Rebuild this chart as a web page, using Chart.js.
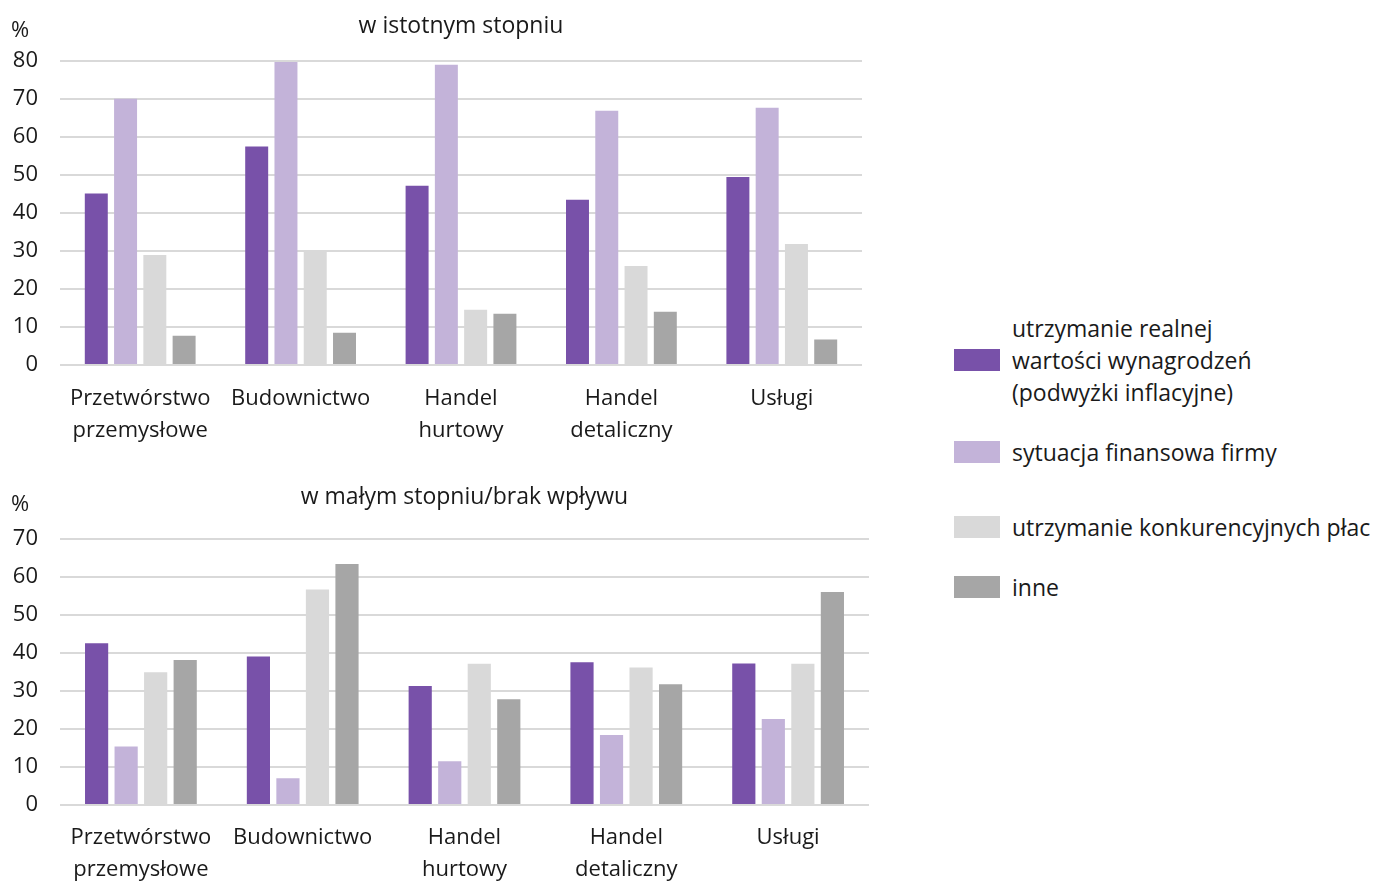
<!DOCTYPE html>
<html>
<head>
<meta charset="utf-8">
<script src="https://cdn.jsdelivr.net/npm/chart.js@4/dist/chart.umd.min.js"></script>
<style>
  body { margin: 0; background: #fff; font-family: "Open Sans", sans-serif; }
  #wrap { position: relative; width: 1380px; height: 882px; overflow: hidden; }
  #topBox { position: absolute; left: 0; top: 0; width: 862px; height: 451px; }
  #bottomBox { position: absolute; left: 0; top: 470px; width: 869px; height: 412px; }
  #legend { position: absolute; left: 954px; top: 312px; font-size: 23px; color: #1a1a1a; }
  .item { display: flex; align-items: center; line-height: 32px; white-space: nowrap; }
  .swatch { width: 46px; height: 22px; margin-right: 12px; flex: none; }
</style>
</head>
<body>
<div id="wrap">
  <div id="topBox"><canvas id="topChart"></canvas></div>
  <div id="bottomBox"><canvas id="bottomChart"></canvas></div>
  <div id="legend"></div>
</div>
<script>
// categories and series labels
const categories = [['Przetwórstwo', 'przemysłowe'], 'Budownictwo', ['Handel', 'hurtowy'], ['Handel', 'detaliczny'], 'Usługi'];
const seriesNames = [
  ['utrzymanie realnej', 'wartości wynagrodzeń', '(podwyżki inflacyjne)'],
  ['sytuacja finansowa firmy'],
  ['utrzymanie konkurencyjnych płac'],
  ['inne']
];
const seriesColors = ['#7851a9', '#c3b3d9', '#d9d9d9', '#a6a6a6'];

// w istotnym stopniu
const significantReal        = [45.1, 57.4, 47.1, 43.4, 49.4];
const significantFinance     = [70.0, 79.6, 78.9, 66.8, 67.6];
const significantCompetitive = [28.9, 30.0, 14.5, 26.0, 31.8];
const significantOther       = [7.7, 8.5, 13.5, 14.0, 6.7];

// w małym stopniu / brak wpływu
const smallReal        = [42.5, 39.0, 31.3, 37.5, 37.2];
const smallFinance     = [15.4, 7.0, 11.5, 18.4, 22.6];
const smallCompetitive = [34.9, 56.6, 37.1, 36.1, 37.1];
const smallOther       = [38.1, 63.3, 27.8, 31.7, 56.0];

const FONT = '"Open Sans", sans-serif';
const TEXT = '#1a1a1a';

// draws the "%" unit next to the title line
const percentPlugin = {
  id: 'percentUnit',
  afterDraw(chart) {
    const tb = chart.titleBlock;
    const ctx = chart.ctx;
    ctx.save();
    ctx.font = '22px ' + FONT;
    ctx.fillStyle = TEXT;
    ctx.textAlign = 'left';
    ctx.textBaseline = 'middle';
    ctx.fillText('%', 11, (tb.top + tb.bottom) / 2);
    ctx.restore();
  }
};

function makeChart(id, title, series, yMax, titlePad, xPad, xHeight) {
  return new Chart(document.getElementById(id), {
    type: 'bar',
    data: {
      labels: categories,
      datasets: series.map((values, i) => ({
        label: seriesNames[i].join(' '),
        data: values,
        backgroundColor: seriesColors[i],
        categoryPercentage: 0.73,
        barPercentage: 0.785
      }))
    },
    options: {
      responsive: true,
      maintainAspectRatio: false,
      animation: false,
      layout: { padding: 0 },
      plugins: {
        legend: { display: false },
        tooltip: { enabled: false },
        title: {
          display: true,
          fullSize: false,
          text: title,
          color: TEXT,
          font: { family: FONT, size: 23, weight: 'normal' },
          padding: titlePad
        }
      },
      scales: {
        x: {
          grid: { display: false, drawTicks: false },
          border: { display: false },
          ticks: {
            color: TEXT,
            font: { family: FONT, size: 22, lineHeight: 1.45 },
            padding: xPad,
            maxRotation: 0,
            autoSkip: false
          },
          afterFit(scale) { scale.height = xHeight; }
        },
        y: {
          min: 0,
          max: yMax,
          grid: { color: '#d9d9d9', lineWidth: 2, drawTicks: false },
          border: { display: false },
          ticks: {
            stepSize: 10,
            color: TEXT,
            font: { family: FONT, size: 22 },
            padding: 22
          },
          afterFit(scale) { scale.width = 60; }
        }
      }
    },
    plugins: [percentPlugin]
  });
}

makeChart('topChart', 'w istotnym stopniu',
  [significantReal, significantFinance, significantCompetitive, significantOther],
  80, { top: 13, bottom: 20 }, 18, 86);

makeChart('bottomChart', 'w małym stopniu/brak wpływu',
  [smallReal, smallFinance, smallCompetitive, smallOther],
  70, { top: 14, bottom: 27 }, 17, 77);

// HTML legend built from the series names and colours
const legendGaps = [0, 28, 43, 28];
const legend = document.getElementById('legend');
seriesNames.forEach((lines, i) => {
  const item = document.createElement('div');
  item.className = 'item';
  item.style.marginTop = legendGaps[i] + 'px';
  const sw = document.createElement('div');
  sw.className = 'swatch';
  sw.style.background = seriesColors[i];
  const txt = document.createElement('div');
  txt.innerHTML = lines.join('<br>');
  item.appendChild(sw);
  item.appendChild(txt);
  legend.appendChild(item);
});
</script>
</body>
</html>
